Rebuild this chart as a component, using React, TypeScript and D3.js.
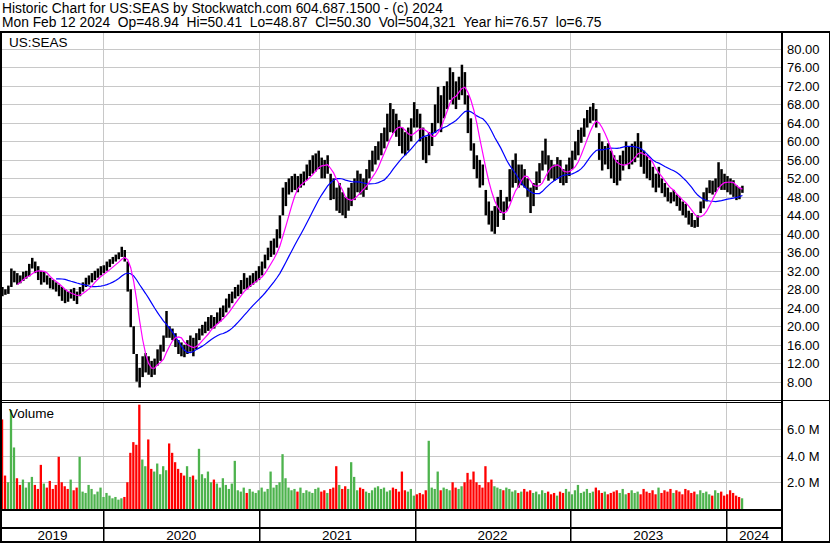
import React from "react";
import * as d3 from "d3";

const START_DATE = "2019-05-06";
const END_DATE = "2024-02-12";

const weekHigh = [
  28.5, 28.0, 28.8, 32.5, 32.0, 31.5, 31.0, 31.8, 32.0, 33.5,
  34.8, 34.0, 33.0, 32.0, 31.8, 31.0, 30.5, 30.0, 29.5, 29.0,
  28.5, 28.0, 27.5, 28.0, 28.3, 27.5, 28.5, 29.5, 30.5, 31.0,
  31.5, 32.0, 32.5, 33.0, 33.2, 34.0, 34.5, 35.0, 35.5, 36.0,
  37.2, 36.5, 34.0, 28.0, 20.0, 14.0, 11.0, 13.5, 14.2, 13.5,
  12.5, 13.0, 15.0, 16.0, 18.0, 23.3, 20.0, 19.5, 18.5, 17.0,
  16.5, 16.0, 17.0, 18.0, 17.5, 18.5, 19.5, 20.3, 21.0, 22.0,
  22.4, 22.0, 23.0, 24.0, 24.5, 26.0, 27.0, 27.5, 28.5, 29.0,
  30.0, 31.5, 30.5, 31.0, 31.5, 32.0, 33.0, 34.0, 35.5, 37.0,
  38.5, 39.0, 41.0, 44.0, 50.0, 51.2, 52.0, 52.5, 53.0, 52.5,
  53.0, 53.5, 55.0, 56.0, 57.0, 57.4, 58.0, 56.5, 56.0, 57.0,
  53.0, 52.0, 50.0, 51.0, 49.0, 48.0, 50.0, 51.0, 52.0, 53.7,
  53.0, 52.0, 54.0, 56.0, 58.0, 59.0, 60.0, 61.8, 63.0, 66.0,
  68.3, 67.0, 66.0, 64.6, 63.0, 62.0, 63.0, 65.0, 68.5, 67.0,
  66.0, 63.0, 61.0, 62.0, 64.0, 68.0, 71.8, 70.0, 72.0, 73.0,
  76.0, 75.0, 73.0, 74.0, 76.6, 75.0, 70.0, 65.0, 59.6, 57.0,
  56.0, 55.0, 49.5, 47.0, 45.0, 46.0, 48.0, 49.5, 47.0, 48.0,
  54.0, 56.0, 57.4, 55.0, 55.0, 54.0, 52.0, 50.0, 51.0, 53.5,
  55.3, 58.0, 60.6, 57.0, 56.0, 55.0, 56.6, 56.0, 54.0, 55.0,
  56.5, 58.0, 60.0, 62.5, 63.0, 65.0, 66.8, 67.5, 68.3, 67.0,
  61.8, 60.0, 59.0, 59.6, 58.0, 57.0, 56.0, 57.0, 58.0, 60.0,
  59.0, 59.5, 60.0, 61.8, 60.0, 58.0, 57.0, 56.0, 54.5, 53.0,
  54.5, 52.0, 51.0, 50.0, 49.0, 49.5, 48.5, 48.0, 47.0, 46.5,
  45.0, 44.5, 43.0, 44.0, 47.0, 49.0, 50.0, 51.6, 51.5, 52.0,
  55.5, 54.0, 53.0, 52.5, 52.0, 51.6, 50.5, 50.0, 50.41,
];

const weekLow = [
  26.5, 26.8, 27.0, 28.5, 29.5, 29.0, 29.3, 29.8, 30.3, 30.8,
  32.5, 31.5, 30.0, 29.0, 29.5, 29.0, 28.2, 28.0, 27.5, 26.5,
  25.5, 25.0, 25.3, 26.0, 25.5, 24.8, 26.5, 27.5, 28.5, 29.0,
  29.5, 30.0, 30.5, 31.0, 31.5, 32.0, 32.8, 33.5, 34.0, 34.5,
  35.0, 34.0, 27.5, 19.8, 14.0, 8.0, 6.75, 9.0, 10.0, 9.5,
  9.0, 9.5, 11.5, 12.5, 14.5, 17.5, 17.5, 17.0, 15.5, 14.0,
  13.5, 13.3, 14.0, 14.5, 13.5, 15.0, 17.0, 18.0, 18.5, 19.0,
  19.5, 19.5, 20.5, 21.0, 22.0, 23.0, 24.0, 25.0, 26.0, 26.5,
  27.0, 28.0, 28.0, 28.5, 29.0, 29.5, 30.0, 31.0, 32.5, 34.3,
  35.0, 35.5, 37.0, 39.0, 44.0, 46.0, 48.5, 49.0, 49.5, 49.0,
  50.0, 50.5, 51.6, 52.5, 53.0, 53.5, 54.0, 52.0, 52.0, 53.0,
  47.3, 47.5, 45.0, 44.5, 44.0, 43.4, 45.0, 46.0, 47.3, 49.0,
  48.5, 48.0, 49.5, 52.0, 53.5, 55.0, 56.0, 57.0, 58.5, 60.0,
  62.0, 61.8, 61.0, 59.0, 57.4, 57.0, 58.0, 60.0, 63.0, 63.0,
  60.0, 56.0, 55.3, 57.0, 59.0, 61.8, 64.0, 62.0, 65.0, 67.0,
  69.0, 68.0, 67.0, 69.0, 70.0, 68.0, 61.8, 58.0, 54.0, 52.0,
  50.0, 50.5, 44.0, 42.0, 40.5, 40.0, 41.5, 44.5, 43.0, 45.0,
  47.0, 50.0, 51.0, 50.0, 50.5, 50.0, 48.0, 44.5, 46.0, 49.5,
  51.0, 53.7, 55.0, 51.5, 52.0, 51.5, 52.0, 51.0, 50.5, 51.0,
  52.5, 54.0, 56.0, 57.0, 59.7, 61.0, 63.0, 64.0, 64.5, 63.0,
  56.0, 53.7, 55.0, 54.0, 52.0, 51.0, 50.5, 51.5, 53.7, 55.0,
  54.0, 55.0, 55.5, 56.5, 54.5, 53.0, 52.0, 51.6, 50.0, 49.0,
  50.0, 48.8, 48.0, 47.0, 46.6, 47.0, 46.0, 45.0, 44.0, 43.5,
  42.0, 41.5, 41.3, 41.5, 44.5, 45.5, 47.0, 48.8, 48.5, 49.0,
  50.0, 49.5, 49.5, 49.0, 48.5, 48.0, 47.3, 47.5, 48.87,
];

// weekly volume, millions
const weekVolume = [
  6.7, 2.5, 2.0, 7.4, 4.6, 2.3, 1.8, 2.2, 1.6, 2.0,
  2.4, 1.8, 1.5, 3.3, 1.9, 1.6, 2.1, 1.5, 1.8, 3.9,
  2.0, 1.7, 1.5, 2.2, 1.4, 1.6, 3.9, 1.3, 1.2, 1.8,
  1.5, 1.1, 1.3, 1.6, 0.9, 1.2, 1.0, 0.8, 0.9, 0.7,
  0.8, 0.9, 2.0, 4.2, 5.0, 4.8, 7.8, 3.7, 3.2, 5.2,
  3.0, 2.8, 3.4, 2.6, 3.2, 2.9, 4.9, 4.2, 3.5, 3.0,
  2.7, 2.5, 3.2, 2.4, 2.5, 2.2, 4.5, 2.6, 2.3, 2.8,
  2.0, 2.2, 1.9, 1.6, 2.3, 1.8, 1.5, 1.9, 3.6, 1.4,
  1.3, 1.6, 1.2, 1.5, 1.3, 1.2, 1.4, 1.6, 1.3, 1.5,
  2.8, 1.6, 1.8, 2.0, 4.1, 2.3, 1.6, 1.4, 1.5, 1.3,
  1.6, 1.2, 1.4, 1.3, 1.2, 1.5, 1.6, 1.3, 1.4, 1.2,
  1.5, 1.6, 3.2, 1.8, 1.5, 1.7, 1.5, 3.5, 2.4, 1.4,
  1.6, 1.5, 1.3, 1.2, 1.4, 1.6, 1.7, 1.5, 1.6, 1.3,
  1.4, 1.6, 1.5, 1.3, 2.8, 1.4, 1.3, 1.5, 1.0, 1.1,
  1.2, 1.1, 1.4, 5.1, 1.6, 1.5, 2.8, 1.4, 1.6, 1.5,
  1.4, 2.0, 1.6, 1.5, 1.7, 2.0, 2.7, 2.2, 2.8, 2.0,
  1.8, 1.6, 3.2, 2.0, 2.2, 1.7, 1.6, 1.5, 1.4, 1.6,
  1.5, 1.3, 1.4, 1.2, 1.3, 1.5, 1.3, 1.4, 1.2, 1.3,
  1.1, 1.4, 1.2, 1.3, 1.1, 1.2, 1.0, 1.3, 1.2, 1.5,
  1.3, 1.1, 1.4, 1.8, 1.2, 1.3, 1.5, 1.2, 1.3, 1.6,
  1.4, 1.2, 1.3, 1.1, 1.2, 1.3, 1.4, 1.2, 1.5, 1.1,
  1.2, 1.4, 1.2, 1.3, 1.1, 1.5, 1.3, 1.2, 1.4, 1.1,
  1.6, 1.2, 1.4, 1.3, 1.5, 1.2, 1.4, 1.3, 1.1, 1.5,
  1.4, 1.2, 1.3, 1.1, 1.4, 1.2, 1.3, 1.1, 1.0, 1.4,
  1.2, 1.3, 1.0, 1.1, 1.4, 1.2, 1.0, 0.9, 0.8,
];

const priceTicks = [80, 76, 72, 68, 64, 60, 56, 52, 48, 44, 40, 36, 32, 28, 24, 20, 16, 12, 8];
const volumeTicks = [2, 4, 6];
const yearLabels = ["2019", "2020", "2021", "2022", "2023", "2024"];
const yearStarts = ["2020-01-01", "2021-01-01", "2022-01-01", "2023-01-01", "2024-01-01"];

const titleLine1 = "Historic Chart for US:SEAS by Stockwatch.com 604.687.1500 - (c) 2024";
const titleLine2 = "Mon Feb 12 2024  Op=48.94  Hi=50.41  Lo=48.87  Cl=50.30  Vol=504,321  Year hi=76.57  lo=6.75";
const symbolLabel = "US:SEAS";
const volumeLabel = "Volume";

const FAST_MA = 6;
const SLOW_MA = 19;

const W = 830;
const H = 543;
const PLOT_L = 2;
const PLOT_R = 782;
const PRICE_TOP = 33;
const PRICE_BOT = 400;
const VOL_TOP = 403;
const VOL_BOT = 509;
const FONT = "'Liberation Sans', Arial, sans-serif";

export default function App() {
  const parse = d3.utcParse("%Y-%m-%d");
  const start = parse(START_DATE)!;
  const end = parse(END_DATE)!;
  const x = d3.scaleUtc().domain([start, end]).range([0.9, 743.9]);
  const y = d3.scaleLinear().domain([8, 80]).range([381.7, 49]);
  const yv = d3.scaleLinear().domain([0, 8]).range([VOL_BOT, 402]);

  const dates = weekHigh.map((_, i) => d3.utcDay.offset(start, i * 7));
  const mid = weekHigh.map((h, i) => (h + weekLow[i]) / 2);
  const movingAvg = (n: number) =>
    mid.map((_, i) => (i < n - 1 ? null : d3.mean(mid.slice(i - n + 1, i + 1))!));
  const fast = movingAvg(FAST_MA);
  const slow = movingAvg(SLOW_MA);
  const line = d3
    .line<number | null>()
    .defined((d) => d != null)
    .x((_, i) => x(dates[i]) + 1.5)
    .y((d) => y(d as number));

  const yearX = yearStarts.map((s) => x(parse(s)!));
  const bounds = [PLOT_L, ...yearX, PLOT_R];

  const grid = "#c8c8c8";
  const pre = { whiteSpace: "pre" as const };

  return (
    <svg
      width={W}
      height={H}
      style={{ position: "absolute", left: 0, top: 0, background: "#fff" }}
      fontFamily={FONT}
    >
      <rect x={0} y={0} width={W} height={H} fill="#fff" />
      {/* title */}
      <text x={2} y={13} fontSize={13.8} fill="#000" style={pre}>{titleLine1}</text>
      <text x={2} y={27} fontSize={13.8} fill="#000" style={pre}>{titleLine2}</text>

      {/* price grid */}
      {priceTicks.map((t) => (
        <line key={"pg" + t} x1={PLOT_L} x2={PLOT_R} y1={Math.round(y(t)) + 0.5} y2={Math.round(y(t)) + 0.5} stroke={grid} />
      ))}
      {volumeTicks.map((t) => (
        <line key={"vg" + t} x1={PLOT_L} x2={PLOT_R} y1={Math.round(yv(t)) + 0.5} y2={Math.round(yv(t)) + 0.5} stroke={grid} />
      ))}
      {yearX.map((xx, i) => (
        <g key={"yg" + i}>
          <line x1={Math.round(xx) + 0.5} x2={Math.round(xx) + 0.5} y1={PRICE_TOP} y2={PRICE_BOT} stroke={grid} />
          <line x1={Math.round(xx) + 0.5} x2={Math.round(xx) + 0.5} y1={VOL_TOP} y2={VOL_BOT} stroke={grid} />
        </g>
      ))}

      {/* volume bars */}
      {weekVolume.map((v, i) => {
        const up = i === 0 ? false : mid[i] >= mid[i - 1];
        return (
          <rect
            key={"v" + i}
            x={x(dates[i])}
            y={yv(v)}
            width={2.3}
            height={VOL_BOT - yv(v)}
            fill={up ? "#4db34d" : "#ff0000"}
          />
        );
      })}

      {/* price bars */}
      {weekHigh.map((h, i) => (
        <line
          key={"p" + i}
          x1={x(dates[i]) + 1.5}
          x2={x(dates[i]) + 1.5}
          y1={y(h)}
          y2={y(weekLow[i])}
          stroke="#000"
          strokeWidth={2.5}
        />
      ))}

      {/* moving averages */}
      <path d={line(slow) || ""} fill="none" stroke="#0000ff" strokeWidth={1.2} />
      <path d={line(fast) || ""} fill="none" stroke="#ff00ff" strokeWidth={1.2} />

      {/* labels inside panels */}
      <text x={9} y={47} fontSize={13.5} fill="#000">{symbolLabel}</text>
      <text x={9} y={418} fontSize={13.5} fill="#000">{volumeLabel}</text>

      {/* right axis labels */}
      {priceTicks.map((t) => (
        <text key={"pl" + t} x={787} y={y(t) + 5} fontSize={13} fill="#000">{t.toFixed(2)}</text>
      ))}
      {volumeTicks.map((t) => (
        <text key={"vl" + t} x={787} y={yv(t) + 5} fontSize={13} fill="#000">{t.toFixed(1) + " M"}</text>
      ))}

      {/* frame */}
      <rect x={0} y={31} width={2} height={H - 31} fill="#000" />
      <rect x={0} y={31} width={W} height={2} fill="#000" />
      <rect x={W - 1} y={31} width={1} height={H - 31} fill="#000" />
      <rect x={781} y={31} width={2} height={H - 31} fill="#000" />
      <rect x={0} y={400} width={W} height={1} fill="#000" />
      <rect x={0} y={402} width={782} height={1} fill="#000" />
      <rect x={0} y={509} width={782} height={2} fill="#000" />
      <rect x={0} y={527} width={782} height={2} fill="#000" />
      <rect x={0} y={541} width={W} height={2} fill="#000" />
      {yearX.map((xx, i) => (
        <rect key={"yd" + i} x={Math.round(xx)} y={511} width={1.5} height={30} fill="#000" />
      ))}
      {yearLabels.map((lab, i) => (
        <text key={"yl" + i} x={(bounds[i] + bounds[i + 1]) / 2} y={540} fontSize={13.5} textAnchor="middle" fill="#000">
          {lab}
        </text>
      ))}
    </svg>
  );
}
